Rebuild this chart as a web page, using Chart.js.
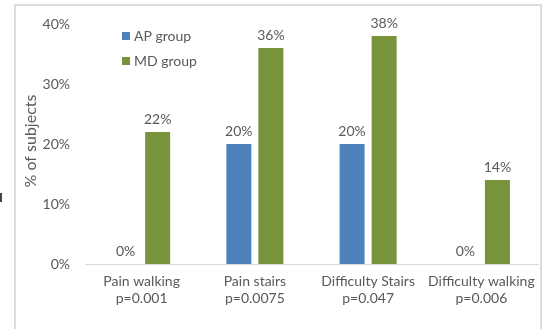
<!DOCTYPE html>
<html>
<head>
<meta charset="utf-8">
<script src="https://cdn.jsdelivr.net/npm/chart.js@4/dist/chart.umd.min.js"></script>
<style>
  html, body { margin: 0; padding: 0; background: #fff; }
  #wrap { position: relative; width: 549px; height: 329px; overflow: hidden; }
  #frame { position: absolute; left: 14px; top: 4px; width: 528px; height: 340px;
           border: 2px solid #dcdcdc; box-sizing: border-box; }
  #mark { position: absolute; left: 0; top: 193px; width: 2px; height: 9px; background: #444; }
  canvas { position: absolute; left: 0; top: 0; }
</style>
</head>
<body>
<div id="wrap">
  <div id="frame"></div>
  <div id="mark"></div>
  <canvas id="c" width="549" height="329"></canvas>
</div>
<script>
// Outcomes (two-line axis labels: measure / p-value)
const categories = [
  ['Pain walking', 'p=0.001'],
  ['Pain stairs', 'p=0.0075'],
  ['Difficulty Stairs', 'p=0.047'],
  ['Difficulty walking', 'p=0.006']
];
const seriesNames = ['AP group', 'MD group'];
const apGroup = [0, 20, 20, 0];
const mdGroup = [22, 36, 38, 14];
const yTicks = [0, 10, 20, 30, 40];
const yTitle = '% of subjects';

const FONT = 'Lato, "Open Sans", sans-serif';
const GREY = '#595959';
const COLORS = ['#4f81bd', '#77933c'];

// Value labels above each bar
const valueLabels = {
  id: 'valueLabels',
  afterDatasetsDraw(chart) {
    const ctx = chart.ctx;
    ctx.save();
    ctx.font = '14px ' + FONT;
    ctx.fillStyle = GREY;
    ctx.textAlign = 'center';
    ctx.textBaseline = 'bottom';
    chart.data.datasets.forEach((ds, i) => {
      chart.getDatasetMeta(i).data.forEach((bar, j) => {
        ctx.fillText(ds.data[j] + '%', bar.x, bar.y - 6);
      });
    });
    ctx.restore();
  }
};

// Vertical legend inside the plot area, top left, plus the rotated y-axis title
const innerLegend = {
  id: 'innerLegend',
  afterDraw(chart) {
    const ctx = chart.ctx;
    ctx.save();
    ctx.font = '14px ' + FONT;
    ctx.textBaseline = 'middle';
    ctx.textAlign = 'left';
    chart.data.datasets.forEach((ds, i) => {
      const y = 36 + i * 25;
      ctx.fillStyle = ds.backgroundColor;
      ctx.fillRect(122, y - 4, 8, 8);
      ctx.fillStyle = GREY;
      ctx.fillText(ds.label, 134, y);
    });
    ctx.translate(31, 141);
    ctx.rotate(-Math.PI / 2);
    ctx.textAlign = 'center';
    ctx.font = '16px ' + FONT;
    ctx.fillText(yTitle, 0, 0);
    ctx.restore();
  }
};

new Chart(document.getElementById('c'), {
  type: 'bar',
  data: {
    labels: categories,
    datasets: [
      { label: seriesNames[0], data: apGroup, backgroundColor: COLORS[0] },
      { label: seriesNames[1], data: mdGroup, backgroundColor: COLORS[1] }
    ]
  },
  options: {
    responsive: false,
    animation: false,
    layout: { padding: { top: 24, right: 11, left: 0, bottom: 0 } },
    datasets: { bar: { categoryPercentage: 0.566, barPercentage: 0.78 } },
    plugins: {
      legend: { display: false },
      tooltip: { enabled: false }
    },
    scales: {
      x: {
        grid: { display: false, drawTicks: false },
        border: { display: true, color: '#d9d9d9', width: 1 },
        ticks: { color: GREY, font: { family: FONT, size: 14 }, padding: 9, maxRotation: 0, autoSkip: false },
        afterFit(scale) { scale.height = 65; }
      },
      y: {
        min: 0,
        max: 40,
        afterBuildTicks(scale) { scale.ticks = yTicks.map(v => ({ value: v })); },
        grid: { display: false, drawTicks: false },
        border: { display: false },
        ticks: {
          color: GREY,
          font: { family: FONT, size: 14 },
          padding: 15,
          callback: v => v + '%'
        },
        afterFit(scale) { scale.width = 85; }
      }
    }
  },
  plugins: [valueLabels, innerLegend]
});
</script>
</body>
</html>
